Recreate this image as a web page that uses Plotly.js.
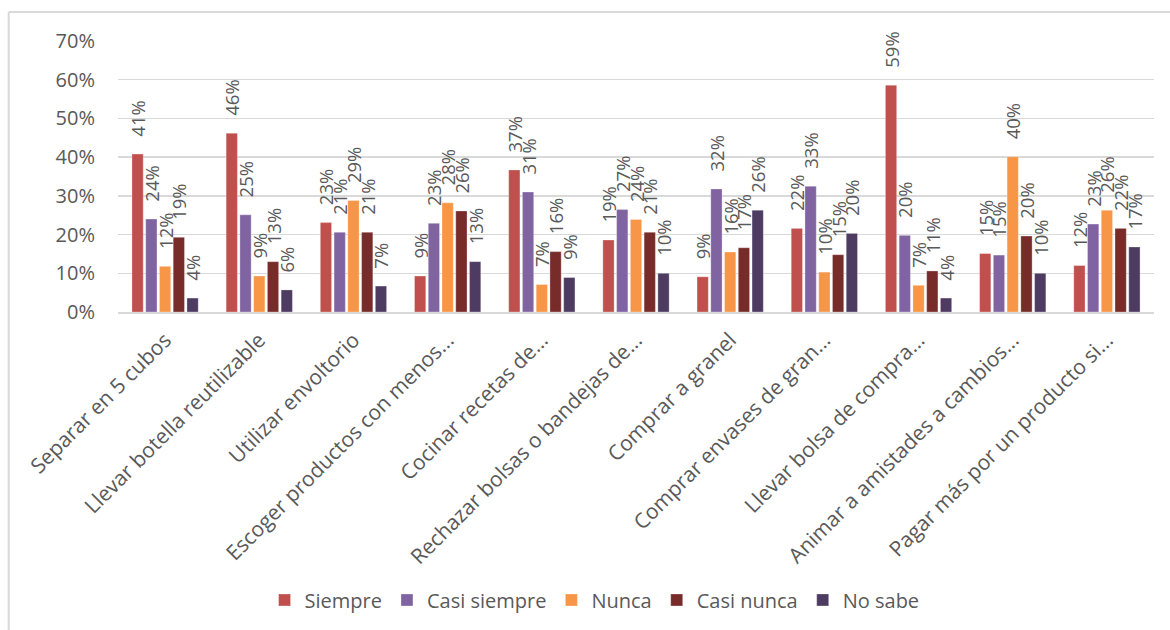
<!DOCTYPE html>
<html>
<head>
<meta charset="utf-8">
<script src="https://cdn.plot.ly/plotly-3.0.1.min.js"></script>
<style>
html,body{margin:0;padding:0;background:#fff;}
#chart{width:1170px;height:630px;}
</style>
</head>
<body>
<div id="chart"></div>
<script>
var categories = [
  "Separar en 5 cubos",
  "Llevar botella reutilizable",
  "Utilizar envoltorio",
  "Escoger productos con menos...",
  "Cocinar recetas de...",
  "Rechazar bolsas o bandejas de...",
  "Comprar a granel",
  "Comprar envases de gran...",
  "Llevar bolsa de compra...",
  "Animar a amistades a cambios...",
  "Pagar más por un producto si..."
];
var seriesNames = ["Siempre", "Casi siempre", "Nunca", "Casi nunca", "No sabe"];
var siempre     = [0.408, 0.462, 0.231, 0.093, 0.367, 0.186, 0.091, 0.216, 0.586, 0.151, 0.120];
var casiSiempre = [0.240, 0.251, 0.206, 0.229, 0.310, 0.265, 0.318, 0.325, 0.198, 0.147, 0.227];
var nunca       = [0.118, 0.093, 0.288, 0.282, 0.071, 0.239, 0.155, 0.103, 0.069, 0.401, 0.263];
var casiNunca   = [0.193, 0.130, 0.206, 0.261, 0.156, 0.206, 0.166, 0.148, 0.106, 0.196, 0.216];
var noSabe      = [0.036, 0.057, 0.067, 0.130, 0.089, 0.100, 0.263, 0.203, 0.036, 0.100, 0.168];
var yTickVals   = [0, 0.1, 0.2, 0.3, 0.4, 0.5, 0.6, 0.7];

var colors = ["#C0504D", "#8064A2", "#F79646", "#772C2A", "#4D3B62"];
var allSeries = [siempre, casiSiempre, nunca, casiNunca, noSabe];

var font = "'Open Sans', 'Noto Sans', sans-serif";
var pad = "\u00A0\u00A0\u00A0";
var traces = allSeries.map(function (vals, i) {
  return {
    type: "bar",
    name: seriesNames[i],
    x: categories,
    y: vals,
    marker: {color: colors[i], line: {color: "rgba(255,255,255,0.6)", width: 0.5}},
    texttemplate: pad + "%{y:.0%}",
    textposition: "outside",
    textangle: -90,
    constraintext: "none",
    cliponaxis: false,
    textfont: {family: font, size: 18.5, color: "#595959"},
    hoverinfo: "skip"
  };
});

var layout = {
  width: 1170,
  height: 630,
  margin: {l: 118, r: 16, t: 41, b: 317},
  paper_bgcolor: "#ffffff",
  plot_bgcolor: "#ffffff",
  barmode: "group",
  bargap: 0.27,
  bargroupgap: 0.18,
  font: {family: font, color: "#595959"},
  xaxis: {
    type: "category",
    tickangle: -45,
    tickfont: {family: font, size: 21, color: "#595959"},
    ticklabelstandoff: 6,
    showgrid: false,
    zeroline: false,
    showline: true,
    linecolor: "#D9D9D9",
    linewidth: 1.5,
    ticks: "",
    automargin: false
  },
  yaxis: {
    range: [0, 0.7],
    tickvals: yTickVals,
    tickformat: ".0%",
    tickfont: {family: font, size: 20, color: "#595959"},
    showgrid: true,
    gridcolor: "#D9D9D9",
    gridwidth: 1.5,
    zeroline: false,
    showline: false,
    ticks: "",
    ticklabelstandoff: 22,
    automargin: false
  },
  showlegend: true,
  legend: {
    orientation: "h",
    x: 0.46,
    xanchor: "center",
    y: -1.055,
    yanchor: "middle",
    font: {family: font, size: 20, color: "#595959"},
    itemwidth: 30,
    traceorder: "normal"
  },
  shapes: [
    {type: "line", xref: "paper", yref: "paper",
     x0: -0.1055, x1: -0.1055, y0: 1.107, y1: -1.3,
     line: {color: "#D9D9D9", width: 2}},
    {type: "line", xref: "paper", yref: "paper",
     x0: -0.1055, x1: 1.05, y0: 1.107, y1: 1.107,
     line: {color: "#D9D9D9", width: 2}}
  ]
};

Plotly.newPlot("chart", traces, layout, {displayModeBar: false, staticPlot: true});
</script>
</body>
</html>
